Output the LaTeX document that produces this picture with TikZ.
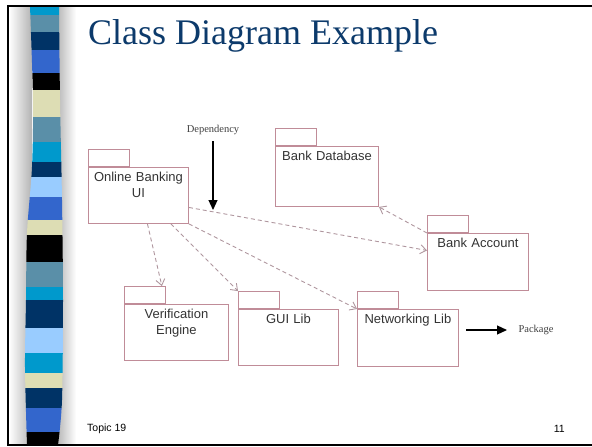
\documentclass[tikz,border=0pt]{standalone}
\usepackage{fontspec}
\setmainfont{Liberation Serif}
\setsansfont{Liberation Sans}
\usetikzlibrary{arrows.meta}
\definecolor{pkgline}{RGB}{192,140,152}
\definecolor{depline}{RGB}{175,150,158}
\definecolor{titleblue}{RGB}{12,58,107}
\definecolor{cyanS}{RGB}{0,153,204}
\definecolor{steelS}{RGB}{90,143,168}
\definecolor{navyS}{RGB}{0,51,102}
\definecolor{royalS}{RGB}{51,102,204}
\definecolor{creamS}{RGB}{221,221,180}
\definecolor{lightS}{RGB}{153,204,255}
\begin{document}
\begin{tikzpicture}[x=1pt, y=-1pt,
  pkg/.style 2 args={draw=pkgline, line width=0.9pt, anchor=north west, font=\sffamily\fontsize{13}{15.6}\selectfont, text=black!80, align=center, inner xsep=0pt, inner ysep=4.5pt, text width=#1, text height=9.5pt, text depth=#2},
  pkgtab/.style={draw=pkgline, line width=0.9pt, anchor=south west, minimum width=41pt, minimum height=17pt, inner sep=0pt},
  uses/.style={draw=depline, line width=0.9pt, dash pattern=on 4pt off 3pt, -{Straight Barb[length=6pt,width=9pt]}},
  note/.style={font=\fontsize{10.5}{12}\selectfont, text=black!75},
  pointer/.style={line width=1.2pt, -{Triangle[length=10pt,width=9pt]}}]
\useasboundingbox (0,0) rectangle (592,447);

% slide frame and side band
\shade[left color=white, right color=gray!60] (9,7) rectangle (32,444);
\shade[left color=gray!60, right color=white] (56,7) rectangle (76,444);
\begin{scope}
\clip plot[smooth] coordinates {(30,6) (33,100) (32,167) (27,233) (26,300) (25,367) (27,445)}
  -- plot[smooth] coordinates {(58,445) (62,400) (63,300) (62,200) (60,100) (59,6)} -- cycle;
\foreach \ya/\yb/\c in {6/15/cyanS, 15/32/steelS, 32/50/navyS, 50/73/royalS, 73/90/black,
  90/117/creamS, 117/142/steelS, 142/162/cyanS, 162/177/navyS, 177/197/lightS, 197/220/royalS,
  220/235/creamS, 235/262/black, 262/287/steelS, 287/300/cyanS, 300/328/navyS, 328/353/lightS,
  353/373/cyanS, 373/388/creamS, 388/408/navyS, 408/432/royalS, 432/445/black}
  \fill[\c] (20,\ya) rectangle (70,\yb);
\end{scope}
\draw[line width=2pt] (592,6) -- (8,6) -- (8,445) -- (592,445);

\node[anchor=base west, font=\fontsize{36}{42}\selectfont, text=titleblue, inner sep=0pt] (title) at (88,45) {Class Diagram Example};

% packages
\node[pkg={100pt}{37.5pt}] (obui) at (88,167) {Online Banking\\UI};
\node[pkg={103pt}{41.5pt}] (bdb) at (275,146) {Bank Database};
\node[pkg={101pt}{38.5pt}] (bacc) at (427,233) {Bank Account};
\node[pkg={104pt}{37.5pt}] (veng) at (124,304) {Verification\\Engine};
\node[pkg={100pt}{37.5pt}] (gui) at (238,309) {GUI Lib};
\node[pkg={101pt}{38.5pt}] (netlib) at (357,309) {Networking Lib};
\foreach \p in {obui,bdb,bacc,veng,gui,netlib}
  \node[pkgtab] (\p-tab) at (\p.north west) {};

% dependencies
\draw[uses] ([yshift=-12pt]obui.east) -- ([yshift=11.5pt]bacc.west);
\draw[uses] (bacc.north west) -- (bdb.south east);
\draw[uses] ([xshift=9pt]obui.south) -- ([xshift=-4pt]veng-tab.north east);
\draw[uses] ([xshift=-18pt]obui.south east) -- (gui-tab.north west);
\draw[uses] (obui.south east) -- (netlib.north west);

% callouts
\node[note] (deplbl) at (213,130) {Dependency};
\coordinate (deptip) at (213,210);
\draw[pointer, shorten <=3pt] (deplbl) -- (deptip);
\node[note, anchor=west] (pkglbl) at (515,330) {Package};
\coordinate (pkgtail) at (466,330);
\draw[pointer, shorten >=8pt] (pkgtail) -- (pkglbl);

\node[anchor=west, font=\sffamily\fontsize{10.5}{12}\selectfont, inner sep=0pt] (topic) at (87,429) {Topic 19};
\node[anchor=east, font=\sffamily\fontsize{10.5}{12}\selectfont, inner sep=0pt] (pageno) at (565,429) {11};
\end{tikzpicture}
\end{document}
